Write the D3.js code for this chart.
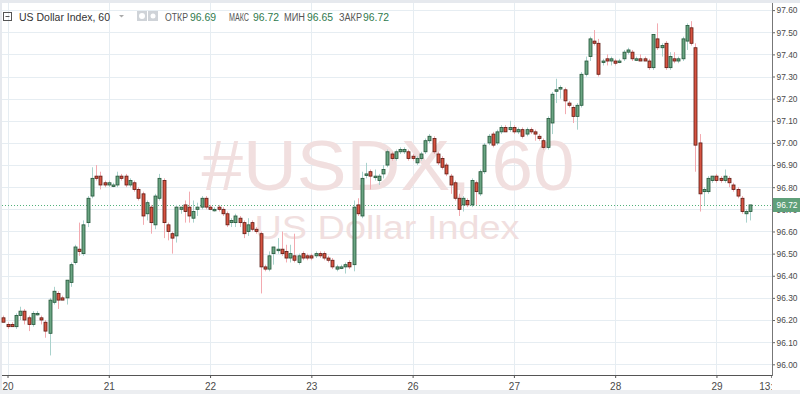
<!DOCTYPE html>
<html>
<head>
<meta charset="utf-8">
<script src="https://cdn.jsdelivr.net/npm/d3@7/dist/d3.min.js"></script>
<style>
  html, body { margin: 0; padding: 0; background: #fff; }
  svg { display: block; }
</style>
</head>
<body>
<div id="chart"></div>
<script>
// hourly candles, 19th 23:00 .. 29th 08:00 (weekend skipped)
const opens = [
  96.21,96.18,96.18,96.17,96.22,96.24,96.21,96.18,96.23,96.21,96.19,96.14,96.28,96.32,96.30,96.30,96.37,96.46,96.52,96.50,
  96.64,96.76,96.85,96.85,96.82,96.81,96.81,96.81,96.85,96.85,96.81,96.82,96.79,96.77,96.68,96.71,96.63,96.75,96.83,96.63,
  96.59,96.58,96.70,96.72,96.71,96.66,96.70,96.71,96.75,96.71,96.70,96.71,96.70,96.68,96.64,96.64,96.66,96.64,96.60,96.64,
  96.61,96.59,96.44,96.43,96.50,96.52,96.52,96.51,96.48,96.49,96.46,96.50,96.49,96.49,96.49,96.50,96.50,96.48,96.47,96.43,
  96.44,96.44,96.46,96.45,96.72,96.67,96.86,96.87,96.85,96.83,96.86,96.90,96.95,96.93,96.96,96.96,96.96,96.94,96.91,96.93,
  96.96,97.01,97.02,96.95,96.93,96.90,96.85,96.82,96.75,96.72,96.74,96.72,96.82,96.77,96.87,97.00,97.04,97.00,97.05,97.07,
  97.06,97.07,97.05,97.06,97.04,97.06,97.05,97.03,97.01,96.98,97.09,97.24,97.25,97.24,97.18,97.16,97.12,97.17,97.31,97.39,
  97.46,97.45,97.37,97.38,97.37,97.37,97.37,97.38,97.41,97.41,97.38,97.38,97.38,97.37,97.34,97.47,97.43,97.45,97.34,97.38,
  97.37,97.38,97.46,97.52,97.43,97.00,96.78,96.78,96.83,96.85,96.84,96.83,96.84,96.81,96.79,96.75,96.68,96.69
];
const highs = [
  96.22,96.19,96.19,96.23,96.26,96.25,96.22,96.24,96.24,96.22,96.20,96.30,96.35,96.33,96.31,96.38,96.46,96.54,96.64,96.65,
  96.76,96.89,96.90,96.87,96.83,96.83,96.82,96.87,96.86,96.86,96.84,96.83,96.80,96.78,96.74,96.72,96.77,96.86,96.84,96.64,
  96.60,96.72,96.71,96.74,96.78,96.74,96.73,96.76,96.76,96.72,96.71,96.72,96.71,96.69,96.66,96.68,96.67,96.65,96.66,96.65,
  96.62,96.60,96.45,96.51,96.53,96.57,96.60,96.54,96.54,96.59,96.50,96.51,96.50,96.50,96.51,96.51,96.51,96.49,96.48,96.45,
  96.45,96.46,96.47,96.74,96.75,96.87,96.91,96.88,96.88,96.86,96.90,96.97,96.96,96.97,96.98,96.98,96.97,96.95,96.94,96.96,
  97.02,97.04,97.03,96.96,96.94,96.91,96.86,96.83,96.77,96.76,96.75,96.84,96.83,96.88,97.00,97.04,97.05,97.06,97.08,97.08,
  97.10,97.08,97.07,97.07,97.07,97.07,97.06,97.04,97.02,97.12,97.23,97.29,97.26,97.25,97.19,97.17,97.18,97.32,97.39,97.48,
  97.51,97.47,97.38,97.40,97.39,97.38,97.38,97.42,97.43,97.42,97.39,97.40,97.39,97.38,97.49,97.54,97.45,97.46,97.41,97.41,
  97.39,97.48,97.54,97.55,97.45,97.04,96.80,96.85,96.85,96.86,96.85,96.88,96.85,96.82,96.80,96.76,96.70,96.72
];
const lows = [
  96.19,96.16,96.17,96.16,96.20,96.18,96.15,96.17,96.22,96.18,96.12,96.04,96.27,96.25,96.29,96.27,96.35,96.45,96.49,96.49,
  96.62,96.75,96.83,96.79,96.80,96.80,96.80,96.80,96.83,96.80,96.80,96.78,96.74,96.63,96.65,96.59,96.61,96.74,96.57,96.56,
  96.50,96.55,96.68,96.64,96.64,96.64,96.67,96.70,96.70,96.70,96.69,96.69,96.67,96.62,96.62,96.62,96.62,96.57,96.58,96.60,
  96.59,96.32,96.42,96.42,96.45,96.50,96.49,96.46,96.46,96.46,96.45,96.47,96.47,96.47,96.48,96.48,96.47,96.46,96.43,96.42,
  96.43,96.41,96.43,96.42,96.67,96.66,96.84,96.79,96.83,96.81,96.84,96.89,96.92,96.92,96.95,96.95,96.92,96.92,96.90,96.92,
  96.95,97.00,96.95,96.90,96.88,96.85,96.77,96.74,96.67,96.69,96.71,96.71,96.72,96.76,96.86,96.99,96.98,96.99,97.04,97.05,
  97.05,97.04,97.04,97.02,97.03,97.04,97.01,97.01,96.97,96.97,97.04,97.18,97.20,97.13,97.16,97.09,97.06,97.16,97.30,97.37,
  97.44,97.30,97.35,97.35,97.35,97.35,97.36,97.37,97.40,97.37,97.37,97.37,97.37,97.33,97.33,97.42,97.39,97.33,97.33,97.36,
  97.36,97.37,97.42,97.44,96.87,96.69,96.72,96.77,96.82,96.82,96.82,96.82,96.80,96.78,96.75,96.68,96.64,96.65
];
const closes = [
  96.19,96.17,96.17,96.22,96.24,96.20,96.18,96.23,96.23,96.20,96.15,96.29,96.33,96.29,96.29,96.38,96.45,96.53,96.51,96.63,
  96.75,96.84,96.84,96.81,96.81,96.82,96.81,96.85,96.84,96.81,96.83,96.79,96.75,96.67,96.73,96.64,96.76,96.84,96.64,96.60,
  96.57,96.71,96.71,96.69,96.67,96.69,96.71,96.75,96.71,96.70,96.70,96.70,96.68,96.63,96.65,96.67,96.64,96.59,96.63,96.61,
  96.60,96.44,96.43,96.49,96.53,96.52,96.50,96.48,96.50,96.47,96.49,96.48,96.48,96.48,96.50,96.49,96.48,96.47,96.44,96.44,
  96.44,96.45,96.44,96.71,96.68,96.84,96.86,96.85,96.85,96.85,96.88,96.96,96.93,96.96,96.97,96.97,96.93,96.93,96.93,96.95,
  97.01,97.03,96.96,96.91,96.89,96.86,96.81,96.75,96.70,96.75,96.72,96.83,96.78,96.87,96.99,97.03,96.99,97.05,97.07,97.05,
  97.07,97.05,97.06,97.03,97.06,97.05,97.04,97.02,96.98,97.11,97.22,97.24,97.25,97.19,97.17,97.12,97.17,97.31,97.37,97.47,
  97.45,97.31,97.37,97.37,97.38,97.36,97.37,97.41,97.42,97.38,97.38,97.37,97.37,97.34,97.49,97.43,97.44,97.34,97.39,97.37,
  97.38,97.47,97.53,97.45,96.99,96.77,96.79,96.84,96.85,96.83,96.83,96.85,96.82,96.79,96.76,96.69,96.69,96.72
];

const dayLabels = ["20", "21", "22", "23", "26", "27", "28", "29", "13:00"];
const dayIndex = [1, 25, 49, 73, 97, 121, 145, 169, 182];
const priceTicks = [96.0, 96.1, 96.2, 96.3, 96.4, 96.5, 96.6, 96.7, 96.8, 96.9, 97.0, 97.1, 97.2, 97.3, 97.4, 97.5, 97.6];
const lastPrice = 96.72;
const legendItems = [["ОТКР", "96.69"], ["МАКС", "96.72"], ["МИН", "96.65"], ["ЗАКР", "96.72"]];

const W = 800, H = 394;
const plotRight = 772, axisY = 375;
const FONT = "'Liberation Sans', Arial, sans-serif";

const candles = opens.map((o, i) => ({ i, o, h: highs[i], l: lows[i], c: closes[i] }));

const svg = d3.select("#chart").append("svg")
  .attr("width", W)
  .attr("height", H)
  .style("font-family", FONT);

const x = d3.scaleLinear().domain([0, 177]).range([3.3, 750.2]);
const y = d3.scaleLinear().domain([96, 97.6]).range([364.3, 10.1]);

svg.append("defs").append("clipPath").attr("id", "plot")
  .append("rect").attr("x", 0).attr("y", 0).attr("width", plotRight).attr("height", H);

// frame bands
svg.append("rect").attr("x", 0).attr("y", 0).attr("width", W).attr("height", 3).attr("fill", "#e6e9ee");
svg.append("rect").attr("x", 0).attr("y", 0).attr("width", 2).attr("height", H).attr("fill", "#e6e9ee");
svg.append("rect").attr("x", 0).attr("y", 390).attr("width", W).attr("height", 4).attr("fill", "#eceef1");

// grid
const grid = svg.append("g");
grid.selectAll(".hg")
  .data(priceTicks)
  .enter().append("line")
  .attr("x1", 2).attr("x2", plotRight)
  .attr("y1", d => Math.round(y(d)) + 0.5).attr("y2", d => Math.round(y(d)) + 0.5)
  .attr("stroke", "#e6edf2");
grid.selectAll(".vg")
  .data(dayIndex.slice(0, 8))
  .enter().append("line")
  .attr("x1", d => Math.round(x(d)) + 0.5).attr("x2", d => Math.round(x(d)) + 0.5)
  .attr("y1", 3).attr("y2", axisY)
  .attr("stroke", "#e6edf2");

// watermark
svg.append("text")
  .attr("x", 388).attr("y", 190)
  .attr("text-anchor", "middle")
  .attr("font-size", 70)
  .attr("textLength", 373).attr("lengthAdjust", "spacingAndGlyphs")
  .attr("fill", "#f1dfdf")
  .text("#USDX, 60");
svg.append("text")
  .attr("x", 387).attr("y", 239)
  .attr("text-anchor", "middle")
  .attr("font-size", 34)
  .attr("textLength", 265).attr("lengthAdjust", "spacingAndGlyphs")
  .attr("fill", "#f1dfdf")
  .text("US Dollar Index");

// last price line
svg.append("line")
  .attr("x1", 2).attr("x2", plotRight)
  .attr("y1", Math.round(y(lastPrice)) + 0.5).attr("y2", Math.round(y(lastPrice)) + 0.5)
  .attr("stroke", "#52b07a")
  .attr("stroke-dasharray", "1,2");

// candles
const cg = svg.append("g").attr("clip-path", "url(#plot)");
cg.selectAll(".wick")
  .data(candles)
  .enter().append("line")
  .attr("x1", d => Math.round(x(d.i)) + 0.5).attr("x2", d => Math.round(x(d.i)) + 0.5)
  .attr("y1", d => y(d.h)).attr("y2", d => y(d.l))
  .attr("stroke", d => d.c >= d.o ? "#a9d2cc" : "#f3aab0");
cg.selectAll(".body")
  .data(candles)
  .enter().append("rect")
  .attr("x", d => Math.round(x(d.i)) - 1)
  .attr("y", d => y(Math.max(d.o, d.c)))
  .attr("width", 3)
  .attr("height", d => Math.max(1.5, Math.abs(y(d.o) - y(d.c))))
  .attr("fill", d => d.c >= d.o ? "#6ba583" : "#d75442")
  .attr("stroke", d => d.c >= d.o ? "#225437" : "#5b1a13")
  .attr("stroke-width", 0.8);

// x axis
const xAxis = svg.append("g")
  .attr("transform", `translate(0,${axisY})`)
  .attr("clip-path", "url(#plot)")
  .call(d3.axisBottom(x)
    .tickValues(dayIndex)
    .tickFormat((d, k) => dayLabels[k])
    .tickSize(3)
    .tickSizeOuter(0));
xAxis.select(".domain").remove();
xAxis.selectAll(".tick line").attr("stroke", "#555");
xAxis.selectAll(".tick text")
  .attr("font-family", FONT).attr("font-size", 10).attr("fill", "#4a4a4a").attr("dy", "0.9em");
svg.append("line")
  .attr("x1", 2).attr("x2", plotRight + 1)
  .attr("y1", axisY + 0.5).attr("y2", axisY + 0.5)
  .attr("stroke", "#555");

// price axis (96.70 sits under the last-price label, as in the original)
const yAxis = svg.append("g")
  .attr("transform", `translate(${plotRight},0)`)
  .call(d3.axisRight(y)
    .tickValues(priceTicks)
    .tickFormat(d3.format(".2f"))
    .tickSize(3)
    .tickSizeOuter(0));
yAxis.select(".domain").remove();
yAxis.selectAll(".tick line").attr("stroke", "#666");
yAxis.selectAll(".tick text")
  .attr("font-family", FONT).attr("font-size", 9).attr("fill", "#4a4a4a")
  .attr("x", 4.5).attr("textLength", 21).attr("lengthAdjust", "spacingAndGlyphs");
svg.append("line")
  .attr("x1", plotRight + 0.5).attr("x2", plotRight + 0.5)
  .attr("y1", 3).attr("y2", axisY + 1)
  .attr("stroke", "#777");

// last price label
const lp = svg.append("g").attr("transform", `translate(${plotRight + 1},${Math.round(y(lastPrice))})`);
lp.append("rect").attr("x", 0).attr("y", -7).attr("width", W - plotRight).attr("height", 14).attr("fill", "#5fa07a");
lp.append("text").attr("x", 3.5).attr("y", 3.2)
  .attr("font-size", 9).attr("textLength", 21).attr("lengthAdjust", "spacingAndGlyphs")
  .attr("fill", "#fff").text(lastPrice.toFixed(2));

// header legend
const hd = svg.append("g");
hd.append("rect").attr("x", 3.5).attr("y", 12.5).attr("width", 8).attr("height", 8)
  .attr("fill", "none").attr("stroke", "#555");
hd.append("line").attr("x1", 5.5).attr("x2", 9.5).attr("y1", 16.5).attr("y2", 16.5).attr("stroke", "#555");
hd.append("text").attr("x", 19).attr("y", 21)
  .attr("font-size", 11.5).attr("textLength", 91).attr("lengthAdjust", "spacingAndGlyphs")
  .attr("fill", "#333").text("US Dollar Index, 60");
hd.append("path").attr("d", "M119,15 L124,15 L121.5,17.5 Z").attr("fill", "#aaa");
[137, 148].forEach((px, k) => {
  hd.append("rect").attr("x", px).attr("y", 11).attr("width", 10).attr("height", 10).attr("fill", "#cfd3d8");
  hd.append("circle").attr("cx", px + 5).attr("cy", 16).attr("r", k ? 2.5 : 3).attr("fill", "#fff");
});
// label x, label width, value x
const legendPos = [[165, 23, 190], [229, 20, 253], [284, 21, 307], [339, 23, 363]];
legendItems.forEach(([lab, val], k) => {
  hd.append("text").attr("x", legendPos[k][0]).attr("y", 21)
    .attr("font-size", 10).attr("textLength", legendPos[k][1]).attr("lengthAdjust", "spacingAndGlyphs")
    .attr("fill", "#555").text(lab);
  hd.append("text").attr("x", legendPos[k][2]).attr("y", 21)
    .attr("font-size", 11).attr("textLength", 26).attr("lengthAdjust", "spacingAndGlyphs")
    .attr("fill", "#2f7a4d").text(val);
});
</script>
</body>
</html>
